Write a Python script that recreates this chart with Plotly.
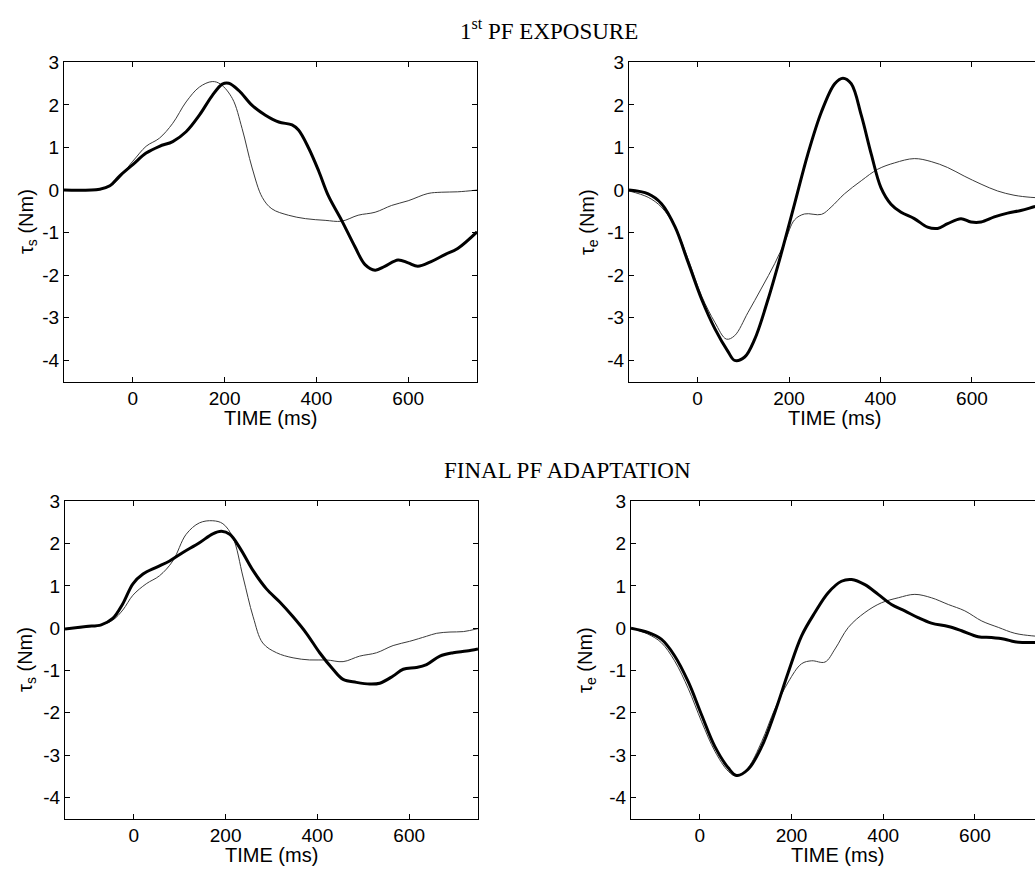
import plotly.graph_objects as go

# ---------------- data ----------------
# Top-left: tau_s, 1st PF exposure
tl_thick_t = [-150, -72, -50, -29, 0, 29, 58, 87, 116, 145, 173, 195, 209, 231, 260, 289, 318, 347, 361,
              383, 405, 426, 455, 484, 506, 528, 549, 578, 600, 621, 650, 679, 708, 750]
tl_thick_v = [0.0, 0.02, 0.1, 0.33, 0.6, 0.87, 1.03, 1.14, 1.37, 1.76, 2.22, 2.49, 2.51, 2.34, 1.99, 1.76, 1.6,
              1.53, 1.41, 0.99, 0.45, -0.13, -0.71, -1.33, -1.75, -1.88, -1.79, -1.64, -1.71, -1.79, -1.68,
              -1.52, -1.37, -0.98]
tl_thin_t = [-150, -50, 0, 29, 58, 87, 116, 145, 173, 191, 217, 238, 260, 282, 303, 339, 376, 419, 455, 491,
             528, 564, 600, 643, 672, 708, 750]
tl_thin_v = [0.0, 0.1, 0.68, 1.03, 1.22, 1.57, 2.07, 2.42, 2.55, 2.49, 2.15, 1.45, 0.52, -0.17, -0.44, -0.59,
             -0.67, -0.71, -0.73, -0.59, -0.52, -0.36, -0.25, -0.08, -0.05, -0.04, 0.0]

# Top-right: tau_e, 1st PF exposure
tr_thick_t = [-150, -108, -79, -49, -20, 9, 38, 67, 81, 103, 125, 154, 183, 212, 241, 271, 300, 318, 336, 358,
              380, 401, 423, 445, 474, 503, 525, 547, 576, 598, 620, 649, 678, 707, 736, 750]
tr_thick_v = [0.0, -0.09, -0.32, -0.87, -1.72, -2.57, -3.26, -3.8, -4.0, -3.92, -3.5, -2.57, -1.49, -0.33,
              0.84, 1.84, 2.5, 2.63, 2.5, 1.76, 0.84, 0.06, -0.33, -0.52, -0.67, -0.87, -0.9, -0.79, -0.67,
              -0.75, -0.75, -0.63, -0.54, -0.48, -0.39, -0.35]
tr_thin_t = [-150, -108, -79, -49, -20, 9, 38, 63, 81, 110, 140, 169, 191, 212, 234, 271, 292, 321, 358, 394,
             431, 474, 511, 547, 583, 620, 656, 692, 729, 750]
tr_thin_v = [-0.02, -0.17, -0.4, -0.87, -1.64, -2.49, -3.11, -3.5, -3.42, -2.88, -2.3, -1.72, -1.21, -0.7,
             -0.56, -0.57, -0.4, -0.09, 0.22, 0.49, 0.64, 0.74, 0.67, 0.53, 0.33, 0.14, -0.02, -0.12, -0.17,
             -0.18]

# Bottom-left: tau_s, final PF adaptation
bl_thick_t = [-150, -104, -71, -46, -24, -2, 20, 49, 78, 107, 143, 172, 191, 209, 231, 260, 289, 318, 347, 376,
              405, 434, 456, 485, 514, 536, 565, 587, 616, 638, 667, 696, 725, 750]
bl_thick_v = [-0.02, 0.04, 0.08, 0.23, 0.58, 1.05, 1.28, 1.44, 1.59, 1.79, 2.02, 2.23, 2.29, 2.22, 1.9, 1.36,
              0.93, 0.62, 0.27, -0.12, -0.58, -0.97, -1.21, -1.28, -1.32, -1.3, -1.13, -0.97, -0.93, -0.86,
              -0.66, -0.58, -0.54, -0.49]
bl_thin_t = [-150, -71, -46, -24, -2, 27, 56, 85, 114, 143, 172, 194, 216, 238, 260, 281, 311, 347, 383, 420,
             456, 492, 529, 565, 601, 638, 660, 689, 718, 750]
bl_thin_v = [-0.02, 0.08, 0.19, 0.43, 0.78, 1.05, 1.24, 1.59, 2.22, 2.49, 2.54, 2.47, 2.14, 1.21, 0.27, -0.35,
             -0.58, -0.7, -0.75, -0.75, -0.79, -0.66, -0.58, -0.41, -0.31, -0.19, -0.12, -0.09, -0.08, -0.01]

# Bottom-right: tau_e, final PF adaptation
br_thick_t = [-150, -113, -84, -55, -25, 4, 33, 62, 80, 105, 135, 164, 193, 222, 251, 280, 309, 331, 360, 389,
              418, 447, 476, 505, 542, 571, 607, 636, 665, 687, 731, 750]
br_thick_v = [0.0, -0.1, -0.26, -0.65, -1.27, -2.05, -2.8, -3.3, -3.48, -3.34, -2.8, -1.98, -1.04, -0.18, 0.37,
              0.84, 1.11, 1.15, 1.03, 0.8, 0.56, 0.41, 0.25, 0.12, 0.04, -0.06, -0.2, -0.22, -0.26, -0.32,
              -0.34, -0.34]
br_thin_t = [-150, -113, -84, -55, -25, 4, 33, 62, 80, 105, 135, 164, 193, 222, 244, 273, 295, 324, 360, 396,
             433, 469, 505, 542, 578, 615, 651, 687, 724, 750]
br_thin_v = [0.0, -0.14, -0.34, -0.77, -1.43, -2.21, -2.91, -3.38, -3.5, -3.3, -2.68, -1.9, -1.27, -0.84,
             -0.77, -0.8, -0.49, 0.02, 0.37, 0.6, 0.72, 0.8, 0.72, 0.56, 0.41, 0.17, 0.02, -0.12, -0.18, -0.2]

x_ticks = [0, 200, 400, 600]
x_tick_labels = ["0", "200", "400", "600"]
y_ticks = [-4, -3, -2, -1, 0, 1, 2, 3]
y_tick_labels = ["-4", "-3", "-2", "-1", "0", "1", "2", "3"]
titles = ["1<sup>st</sup> PF EXPOSURE", "FINAL PF ADAPTATION"]
x_title = "TIME (ms)"
y_titles = ["τ<sub>s</sub> (Nm)", "τ<sub>e</sub> (Nm)"]

# ---------------- figure ----------------
W, H = 1035, 870
fig = go.Figure()

panels = [
    # (thin_t, thin_v, thick_t, thick_v, x0px, x1px, ytop, ybot, xrange_max, ylabel, ylabel_x_px, mirror_right)
    (tl_thin_t, tl_thin_v, tl_thick_t, tl_thick_v, 64, 477, 53, 376, 750, y_titles[0], 27, True),
    (tr_thin_t, tr_thin_v, tr_thick_t, tr_thick_v, 629, 1035, 53, 376, 738, y_titles[1], 588, False),
    (bl_thin_t, bl_thin_v, bl_thick_t, bl_thick_v, 65, 478, 497, 818, 750, y_titles[0], 27, True),
    (br_thin_t, br_thin_v, br_thick_t, br_thick_v, 631, 1035, 497, 818, 731, y_titles[1], 587, False),
]

tick_font = dict(family="Liberation Sans, Arial, sans-serif", size=19, color="black")
annotations = []
for i, (tt, tv, kt, kv, x0, x1, yt, yb, xmax, ylab, ylab_x, mir) in enumerate(panels, start=1):
    xa = "x" if i == 1 else f"x{i}"
    ya = "y" if i == 1 else f"y{i}"
    fig.add_trace(go.Scatter(x=tt, y=tv, mode="lines", line=dict(color="#3a3a3a", width=1, shape="spline"),
                             xaxis=xa, yaxis=ya, showlegend=False, hoverinfo="skip"))
    fig.add_trace(go.Scatter(x=kt, y=kv, mode="lines", line=dict(color="black", width=3, shape="spline"),
                             xaxis=xa, yaxis=ya, showlegend=False, hoverinfo="skip"))
    xkey = "xaxis" if i == 1 else f"xaxis{i}"
    ykey = "yaxis" if i == 1 else f"yaxis{i}"
    fig.update_layout({
        xkey: dict(domain=[x0 / W, min(x1 / W, 1.0)], range=[-150, xmax], anchor=ya,
                   tickvals=x_ticks, ticktext=x_tick_labels, ticks="inside", ticklen=5, tickcolor="black",
                   showline=True, linecolor="black", linewidth=1, mirror="ticks",
                   showgrid=False, zeroline=False, tickfont=tick_font, fixedrange=True),
        ykey: dict(domain=[1 - yb / H, 1 - yt / H], range=[-4.5, 3], anchor=xa,
                   tickvals=y_ticks, ticktext=y_tick_labels, ticks="inside", ticklen=5, tickcolor="black",
                   showline=True, linecolor="black", linewidth=1, mirror="ticks" if mir else False,
                   showgrid=False, zeroline=False, tickfont=tick_font, fixedrange=True),
    })
    # y-axis title
    annotations.append(dict(text=ylab, x=ylab_x / W, y=1 - ((yt + yb) / 2) / H, xref="paper", yref="paper",
                            textangle=-90, showarrow=False, xanchor="center", yanchor="middle",
                            font=dict(family="Liberation Sans, Arial, sans-serif", size=20, color="black")))
    # x-axis title, centred on the 300 ms position of each axis
    cx = x0 + 450 * (x1 - x0) / (xmax + 150)
    annotations.append(dict(text=x_title, x=cx / W, y=1 - (yb + 37) / H, xref="paper", yref="paper",
                            showarrow=False, xanchor="center", yanchor="middle",
                            font=dict(family="Liberation Sans, Arial, sans-serif", size=20, color="black")))

# panel-row titles
annotations.append(dict(text=titles[0], x=549 / W, y=1 - 20 / H, xref="paper", yref="paper", showarrow=False,
                        xanchor="center", yanchor="middle",
                        font=dict(family="Liberation Serif, Times New Roman, serif", size=23, color="black")))
annotations.append(dict(text=titles[1], x=567 / W, y=1 - 466 / H, xref="paper", yref="paper", showarrow=False,
                        xanchor="center", yanchor="middle",
                        font=dict(family="Liberation Serif, Times New Roman, serif", size=23, color="black")))

fig.update_layout(width=W, height=H, margin=dict(l=0, r=0, t=0, b=0), autosize=False,
                  paper_bgcolor="white", plot_bgcolor="white", annotations=annotations, showlegend=False)

fig.write_html("out.html", config={"displayModeBar": False})
